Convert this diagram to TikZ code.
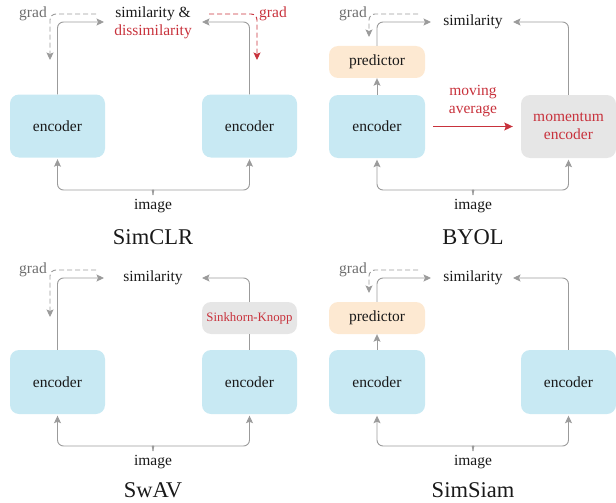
\documentclass[tikz,border=0pt]{standalone}
\usepackage{fontspec}
\setmainfont{Liberation Serif}
\usetikzlibrary{arrows.meta}
\definecolor{encblue}{RGB}{200,233,243}
\definecolor{predorange}{RGB}{253,233,210}
\definecolor{boxgray}{RGB}{230,230,230}
\definecolor{redtxt}{RGB}{200,50,60}
\definecolor{linegray}{RGB}{155,155,155}
\definecolor{gradgray}{RGB}{110,110,110}
\definecolor{txt}{RGB}{25,25,25}
\begin{document}
\begin{tikzpicture}[x=1pt,y=-1pt,
  box/.style={rounded corners=9pt, inner sep=0pt, text=txt, font=\fontsize{15.5}{18}\selectfont, align=center},
  encbox/.style={box, fill=encblue, minimum width=95pt, minimum height=63pt},
  predbox/.style={box, fill=predorange, minimum width=96pt, minimum height=32pt},
  graybox/.style={box, fill=boxgray, text=redtxt},
  lbl/.style={inner sep=0pt, text=txt, font=\fontsize{15.5}{18}\selectfont, align=center},
  gradlbl/.style={lbl, text=gradgray},
  redlbl/.style={lbl, text=redtxt},
  ttl/.style={inner sep=0pt, text=txt, font=\fontsize{22.5}{26}\selectfont},
  gline/.style={draw=linegray, line width=0.9pt},
  garrow/.style={gline, rounded corners=6pt, -{Stealth[length=7.5pt,width=7pt,inset=1.5pt]}},
  gdash/.style={garrow, dash pattern=on 5pt off 3pt},
  rdash/.style={draw=redtxt, line width=0.9pt, rounded corners=6pt, dash pattern=on 5pt off 3pt, -{Stealth[length=7.5pt,width=7pt,inset=1.5pt]}},
  rarrow/.style={draw=redtxt, line width=0.9pt, -{Stealth[length=8.5pt,width=8pt,inset=1.5pt]}},
  brace/.style={gline, rounded corners=6pt, -{Stealth[length=7.5pt,width=7pt,inset=1.5pt]}, shorten >=1.5pt}
]
\useasboundingbox (0,0) rectangle (616,503);

% ---------------- SimCLR ----------------
\node[encbox] (a1) at (57.5,126) {encoder};
\node[encbox] (a2) at (249.5,126) {encoder};
\node[lbl] (asim) at (153,23) {similarity \&\\\textcolor{redtxt}{dissimilarity}};
\node[gradlbl] (agrad) at (33,14) {grad};
\node[redlbl] (agradr) at (273,14) {grad};
\coordinate (aL) at (104,22);
\coordinate (aR) at (202,22);
\coordinate (ag1) at (96,14);
\coordinate (ag2) at (50,60);
\coordinate (ar1) at (209,14);
\coordinate (ar2) at (257,60);
\coordinate (abr) at (153,195);
\node[lbl] (aimg) at (153,206) {image};
\node[ttl] (atitle) at (153,237) {SimCLR};
\draw[garrow] (a1.north) |- (aL);
\draw[garrow] (a2.north) |- (aR);
\draw[gdash] (ag1) -| (ag2);
\draw[rdash] (ar1) -| (ar2);
\draw[brace] (abr) .. controls (153,191) and (151,190) .. (147,190) -| (a1.south);
\draw[brace] (abr) .. controls (153,191) and (155,190) .. (159,190) -| (a2.south);

% ---------------- BYOL ----------------
\node[predbox] (bpred) at (377,62) {predictor};
\node[encbox, minimum width=96pt] (b1) at (377,126.5) {encoder};
\node[graybox, minimum width=95pt, minimum height=63pt] (b2) at (568.5,126.5) {momentum\\encoder};
\node[lbl] (bsim) at (473,22) {similarity};
\node[gradlbl] (bgrad) at (353,14) {grad};
\node[redlbl] (bma) at (473,101) {moving\\average};
\coordinate (bL) at (431,22);
\coordinate (bR) at (513,22);
\coordinate (bg1) at (418,14);
\coordinate (bg2) at (369,37);
\coordinate (bbr) at (473,195);
\node[lbl] (bimg) at (473,206) {image};
\node[ttl] (btitle) at (473,237) {BYOL};
\draw[garrow] (b1.north) -- (bpred.south);
\draw[garrow] (bpred.north) |- (bL);
\draw[garrow] (b2.north) |- (bR);
\draw[gdash] (bg1) -| (bg2);
\draw[rarrow, shorten <=8pt, shorten >=8pt] (b1.east) -- (b2.west);
\draw[brace] (bbr) .. controls (473,191) and (471,190) .. (467,190) -| (b1.south);
\draw[brace] (bbr) .. controls (473,191) and (475,190) .. (479,190) -| (b2.south);

% ---------------- SwAV ----------------
\node[encbox, minimum height=64pt] (c1) at (57.5,382) {encoder};
\node[encbox, minimum height=64pt] (c2) at (249.5,382) {encoder};
\node[graybox, minimum width=95pt, minimum height=32pt, font=\fontsize{12.8}{15}\selectfont] (csk) at (249.5,318) {Sinkhorn-Knopp};
\node[lbl] (csim) at (153,278) {similarity};
\node[gradlbl] (cgrad) at (33,270) {grad};
\coordinate (cL) at (104,278);
\coordinate (cR) at (202,278);
\coordinate (cg1) at (96,270);
\coordinate (cg2) at (50,317);
\coordinate (cbr) at (153,451);
\node[lbl] (cimg) at (153,462) {image};
\node[ttl] (ctitle) at (153,490.5) {SwAV};
\draw[garrow] (c1.north) |- (cL);
\draw[gline] (c2.north) -- (csk.south);
\draw[garrow] (csk.north) |- (cR);
\draw[gdash] (cg1) -| (cg2);
\draw[brace] (cbr) .. controls (153,447) and (151,446) .. (147,446) -| (c1.south);
\draw[brace] (cbr) .. controls (153,447) and (155,446) .. (159,446) -| (c2.south);

% ---------------- SimSiam ----------------
\node[predbox] (dpred) at (377,318) {predictor};
\node[encbox, minimum width=96pt, minimum height=64pt] (d1) at (377,382) {encoder};
\node[encbox, minimum height=64pt] (d2) at (568.5,382) {encoder};
\node[lbl] (dsim) at (473,278) {similarity};
\node[gradlbl] (dgrad) at (353,270) {grad};
\coordinate (dL) at (431,278);
\coordinate (dR) at (513,278);
\coordinate (dg1) at (418,270);
\coordinate (dg2) at (369,293);
\coordinate (dbr) at (473,451);
\node[lbl] (dimg) at (473,462) {image};
\node[ttl] (dtitle) at (473,490.5) {SimSiam};
\draw[garrow] (d1.north) -- (dpred.south);
\draw[garrow] (dpred.north) |- (dL);
\draw[garrow] (d2.north) |- (dR);
\draw[gdash] (dg1) -| (dg2);
\draw[brace] (dbr) .. controls (473,447) and (471,446) .. (467,446) -| (d1.south);
\draw[brace] (dbr) .. controls (473,447) and (475,446) .. (479,446) -| (d2.south);
\end{tikzpicture}
\end{document}
